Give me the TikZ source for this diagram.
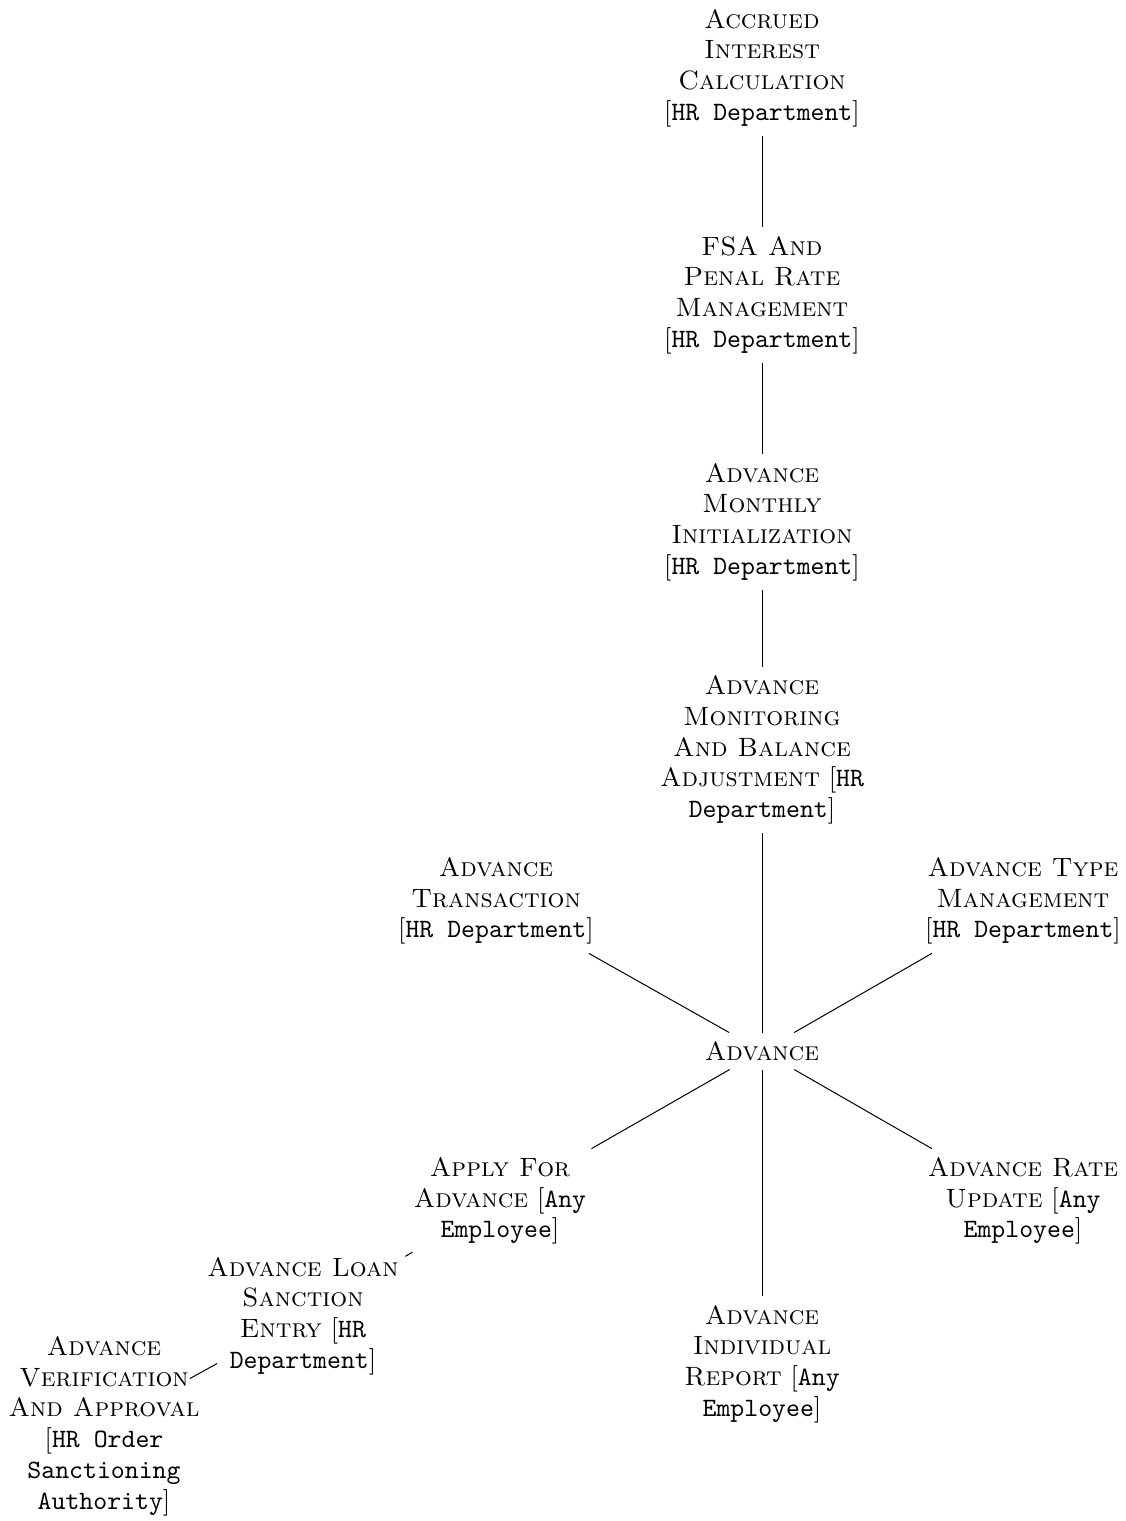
\documentclass[tikz,border=0pt]{standalone}
\begin{document}
\newcommand{\who}[1]{[\texttt{#1}]}
\begin{tikzpicture}[x=0.4pt,y=-0.4pt,
  topic/.style={align=center, inner sep=0.3333em, font=\fontsize{10.6}{12.3}\selectfont},
  link/.style={draw=black, line width=0.4pt}]
\useasboundingbox (0,0) rectangle (1126,1521);
% the hub and the chain above it
\node[topic] (root) at (762,1051) {\textsc{Advance}};
\node[topic] (mon) at (762,750) {\textsc{Advance}\\\textsc{Monitoring}\\\textsc{And Balance}\\\textsc{Adjustment} [\texttt{HR}\\\texttt{Department}]};
\node[topic] (mini) at (762,522) {\textsc{Advance}\\\textsc{Monthly}\\\textsc{Initialization}\\\who{HR Department}};
\node[topic] (fsa) at (762,295) {\textsc{FSA And}\\\textsc{Penal Rate}\\\textsc{Management}\\\who{HR Department}};
\node[topic] (acc) at (762,68) {\textsc{Accrued}\\\textsc{Interest}\\\textsc{Calculation}\\\who{HR Department}};
% branches round the hub
\node[topic] (trans) at (496,901) {\textsc{Advance}\\\textsc{Transaction}\\\who{HR Department}};
\node[topic] (type) at (1023,901) {\textsc{Advance Type}\\\textsc{Management}\\\who{HR Department}};
\node[topic] (apply) at (500,1201) {\textsc{Apply For}\\\textsc{Advance} [\texttt{Any}\\\texttt{Employee}]};
\node[topic] (rate) at (1023,1201) {\textsc{Advance Rate}\\\textsc{Update} [\texttt{Any}\\\texttt{Employee}]};
\node[topic] (indiv) at (762,1364) {\textsc{Advance}\\\textsc{Individual}\\\textsc{Report} [\texttt{Any}\\\texttt{Employee}]};
\node[topic] (loan) at (303,1316) {\textsc{Advance Loan}\\\textsc{Sanction}\\\textsc{Entry} [\texttt{HR}\\\texttt{Department}]};
\node[topic] (verif) at (104,1426) {\textsc{Advance}\\\textsc{Verification}\\\textsc{And Approval}\\{}[\texttt{HR Order}\\\texttt{Sanctioning}\\\texttt{Authority}]};
% connectors
\draw[link] (root) -- (mon);
\draw[link] (mon) -- (mini);
\draw[link] (mini) -- (fsa);
\draw[link] (fsa) -- (acc);
\draw[link] (root) -- (trans);
\draw[link] (root) -- (type);
\draw[link] (root) -- (apply);
\draw[link] (root) -- (rate);
\draw[link] (root) -- (indiv);
\draw[link, shorten <=-1pt, shorten >=-1pt] (apply) -- (loan);
\draw[link, shorten <=-4pt, shorten >=-4pt] (loan) -- (verif);
\end{tikzpicture}
\end{document}
